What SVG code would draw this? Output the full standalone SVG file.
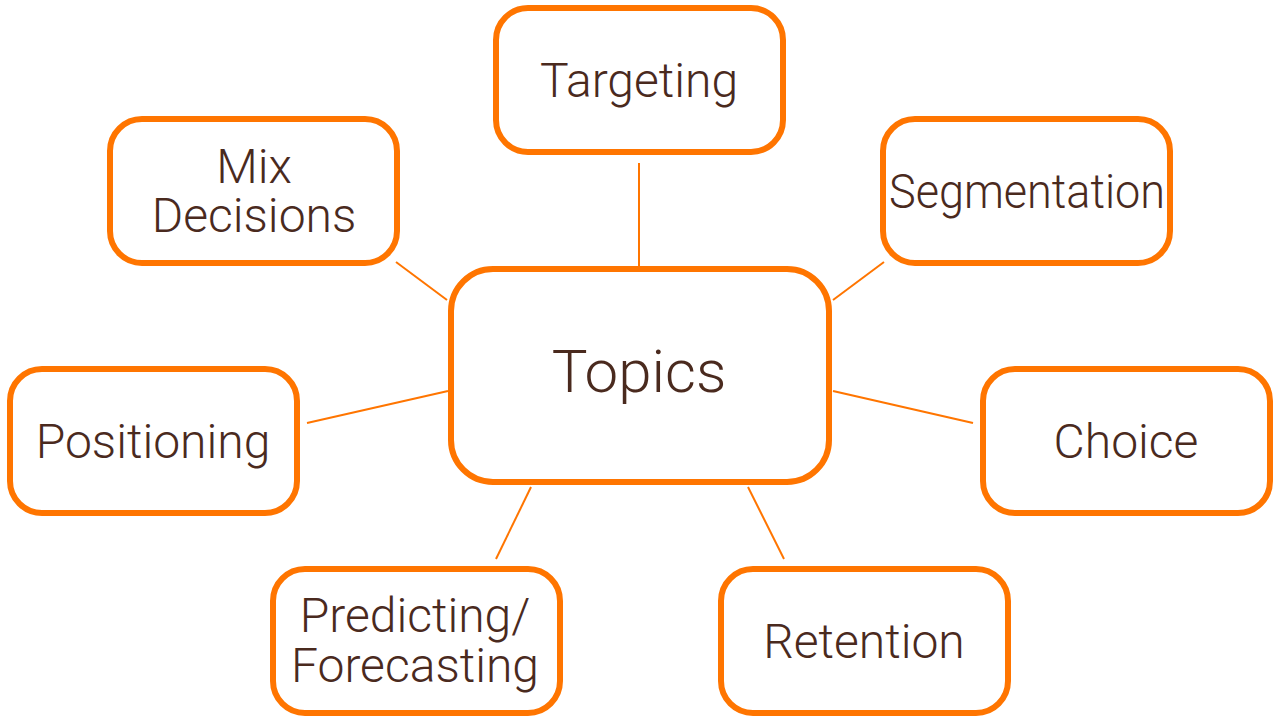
<svg xmlns="http://www.w3.org/2000/svg" width="1280" height="720" viewBox="0 0 1280 720">
<style>
.box{fill:#fff;stroke:#FF7500;stroke-width:6}
.ln{stroke:#FF7500;stroke-width:2;fill:none}
text{font-family:Roboto,"Liberation Sans",sans-serif;font-weight:300;fill:#4A2A1E;text-anchor:middle}
.s{font-size:48px}
.b{font-size:60px}
</style>
<rect width="1280" height="720" fill="#fff"/>
<g id="connectors">
<line class="ln" x1="639" y1="163" x2="639" y2="266"/>
<line class="ln" x1="396" y1="262" x2="447" y2="300"/>
<line class="ln" x1="884" y1="262" x2="833" y2="300"/>
<line class="ln" x1="307" y1="423" x2="448" y2="391"/>
<line class="ln" x1="833" y1="391" x2="973" y2="423"/>
<line class="ln" x1="496" y1="559" x2="531" y2="487"/>
<line class="ln" x1="748" y1="487" x2="784" y2="559"/>
</g>
<g id="topics"><rect class="box" x="451" y="269" width="378" height="213" rx="42"/><text class="b" x="639" y="392">Topics</text></g>
<g id="targeting"><rect class="box" x="496" y="8" width="287" height="144" rx="32"/><text class="s" x="639" y="97">Targeting</text></g>
<g id="mix"><rect class="box" x="110" y="119" width="287" height="144" rx="32"/><text class="s" x="254" y="183">Mix</text><text class="s" x="254" y="232">Decisions</text></g>
<g id="segmentation"><rect class="box" x="883" y="119" width="287" height="144" rx="32"/><text class="s" x="1027" y="208" textLength="276" lengthAdjust="spacingAndGlyphs">Segmentation</text></g>
<g id="positioning"><rect class="box" x="10" y="369" width="287" height="144" rx="32"/><text class="s" x="153" y="458">Positioning</text></g>
<g id="choice"><rect class="box" x="983" y="369" width="287" height="144" rx="32"/><text class="s" x="1126" y="458">Choice</text></g>
<g id="predicting"><rect class="box" x="273" y="569" width="287" height="144" rx="32"/><text class="s" x="415" y="632">Predicting/</text><text class="s" x="415" y="682">Forecasting</text></g>
<g id="retention"><rect class="box" x="721" y="569" width="287" height="144" rx="32"/><text class="s" x="864" y="658">Retention</text></g>
</svg>
